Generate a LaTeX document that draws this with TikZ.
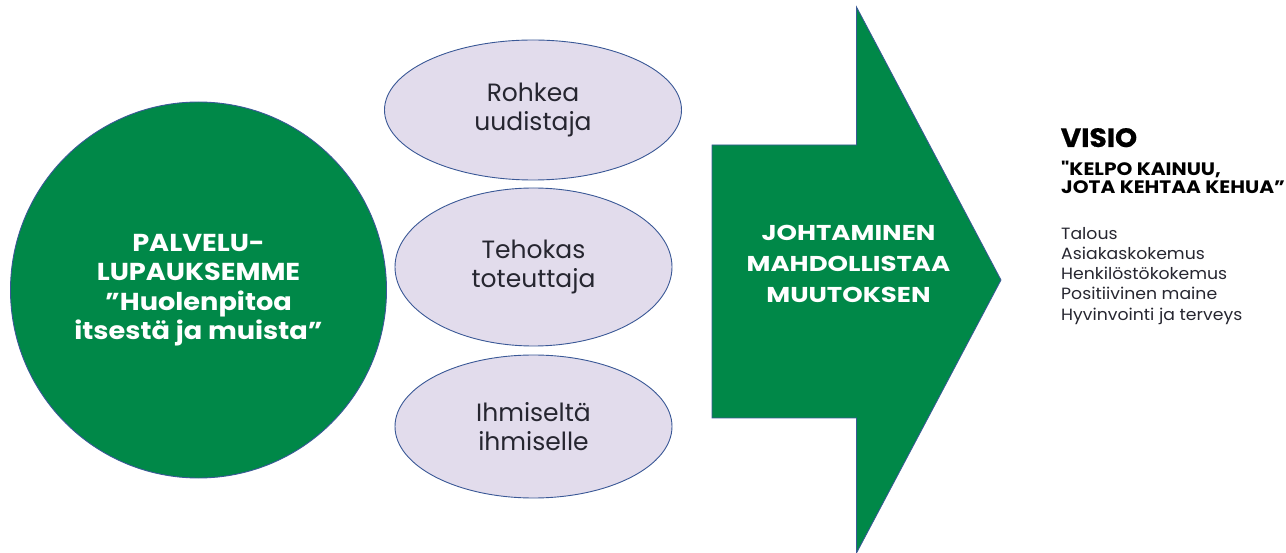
\documentclass[tikz,border=0pt]{standalone}
\usepackage{fontspec}
\setmainfont{Poppins}
\newfontfamily\widebold[FakeStretch=1.21]{Poppins}
\newfontfamily\circlebold[FakeStretch=1.11]{Poppins}
\newfontfamily\quotebold[FakeStretch=1.12]{Poppins}
\newfontfamily\titlebold[FakeStretch=1.06,FakeBold=0.6]{Poppins}
\newfontfamily\listfont[FakeStretch=1.06]{Poppins}
\usetikzlibrary{shapes.geometric}
\definecolor{kgreen}{RGB}{0,136,72}
\definecolor{kedge}{RGB}{58,88,150}
\definecolor{klav}{RGB}{226,220,236}
\definecolor{ktext}{RGB}{38,38,48}
\tikzset{
  bubble/.style={ellipse, draw=kedge, line width=0.9pt, fill=klav, inner sep=0pt,
    text=ktext, align=center, font=\fontsize{25}{29}\selectfont},
  bigcircle/.style={circle, draw=kedge, line width=0.9pt, fill=kgreen, inner sep=0pt,
    minimum size=376pt, text=white, align=center, font=\circlebold\bfseries\fontsize{24.5}{29.5}\selectfont},
  arrowtext/.style={text=white, align=center, inner sep=0pt, font=\widebold\bfseries\fontsize{21.5}{31}\selectfont},
  visiotitle/.style={inner sep=0pt, anchor=base west, text=black, font=\titlebold\bfseries\fontsize{26.5}{30}\selectfont},
  visioquote/.style={inner sep=0pt, anchor=north west, align=left, text=black, font=\quotebold\bfseries\fontsize{18}{18.5}\selectfont},
  visiolist/.style={inner sep=0pt, anchor=north west, align=left, text=ktext, font=\listfont\fontsize{16.3}{20.2}\selectfont},
}
\begin{document}
\begin{tikzpicture}[x=1pt,y=-1pt]
\useasboundingbox (0,0) rectangle (1286,553);
% left circle
\node[bigcircle] (promise) at (198.5,290) {PALVELU-\\LUPAUKSEMME\\”Huolenpitoa\\itsestä ja muista”};
% ellipses
\node[bubble, minimum width=297pt, minimum height=140pt] (e1) at (533,110) {Rohkea\\uudistaja};
\node[bubble, minimum width=277pt, minimum height=158pt] (e2) at (533.5,267) {Tehokas\\toteuttaja};
\node[bubble, minimum width=277pt, minimum height=143pt] (e3) at (533.5,426.5) {Ihmiseltä\\ihmiselle};
% big arrow
\draw[draw=kedge, line width=0.8pt, fill=kgreen, line join=miter]
  (712,145) -- (856.5,145) -- (856.5,7) -- (1001,280) -- (856.5,553) -- (856.5,418) -- (712,418) -- cycle;
\node[arrowtext] (lead) at (848.5,263.5) {JOHTAMINEN\\MAHDOLLISTAA\\MUUTOKSEN};
% vision text
\node[visiotitle] (visio) at (1060.5,147) {VISIO};
\node[visioquote] (quote) at (1061,160.5) {"KELPO KAINUU,\\JOTA KEHTAA KEHUA”};
\node[visiolist] (list) at (1061,227) {Talous\\Asiakaskokemus\\Henkilöstökokemus\\Positiivinen maine\\Hyvinvointi ja terveys};
\end{tikzpicture}
\end{document}
